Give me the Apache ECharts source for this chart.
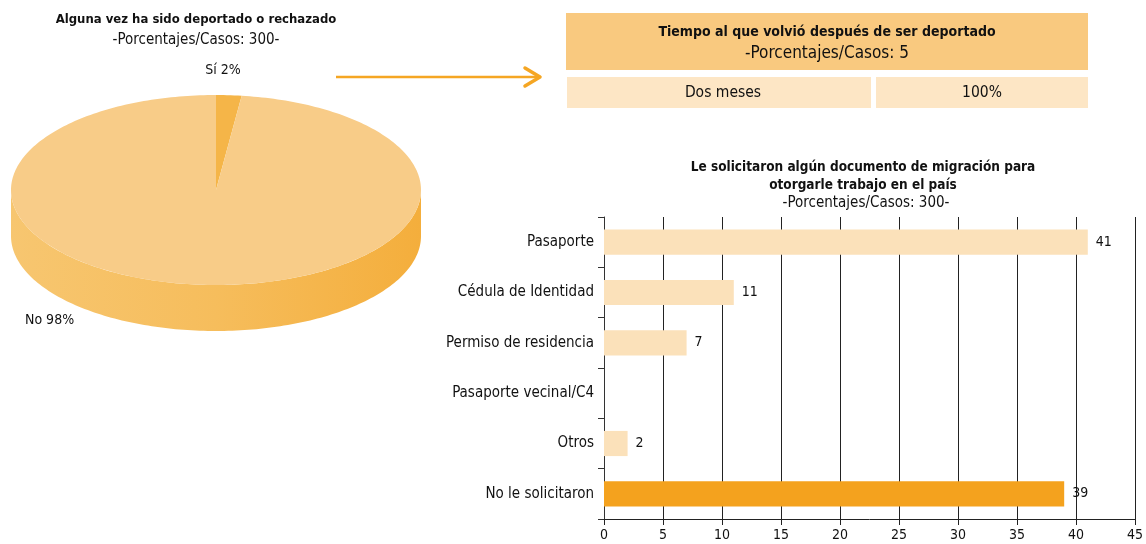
<!DOCTYPE html>
<html>
<head>
<meta charset="utf-8">
<script src="https://cdn.jsdelivr.net/npm/echarts@6/dist/echarts.min.js"></script>
<style>
  html, body { margin: 0; padding: 0; background: #fff; }
  #main { width: 1146px; height: 544px; }
</style>
</head>
<body>
<div id="main"></div>
<script>
// datos del gráfico de torta
const pieNames = ['Sí', 'No'];
const pieValues = [2, 98];

// tabla: tiempo al que volvió
const tableHeader = ['Tiempo al que volvió después de ser deportado', '-Porcentajes/Casos: 5'];
const tableCells = ['Dos meses', '100%'];

// barras: documento de migración
const barCategories = ['Pasaporte', 'Cédula de Identidad', 'Permiso de residencia', 'Pasaporte vecinal/C4', 'Otros', 'No le solicitaron'];
const barValues = [41, 11, 7, 0, 2, 39];
const xTicks = [0, 5, 10, 15, 20, 25, 30, 35, 40, 45];

const FONT = '"DejaVu Sans Condensed", "DejaVu Sans", sans-serif';
const pie = { cx: 216, cy: 190, rx: 205, ry: 95, depth: 46 }; // elipse del pastel 3D

const chart = echarts.init(document.getElementById('main'));

function renderPie (params, api) {
  const i = params.dataIndex;
  const total = pieValues.reduce((a, b) => a + b, 0);
  let start = 0;
  for (let k = 0; k < i; k++) start += pieValues[k];
  const a0 = start / total * Math.PI * 2;
  const a1 = (start + api.value(0)) / total * Math.PI * 2;
  const pt = (a, dy) => [pie.cx + pie.rx * Math.sin(a), pie.cy - pie.ry * Math.cos(a) + dy];
  const arc = (from, to, dy) => {
    const pts = [];
    const n = Math.max(2, Math.ceil((to - from) / 0.02));
    for (let s = 0; s <= n; s++) pts.push(pt(from + (to - from) * s / n, dy));
    return pts;
  };
  const children = [];
  // cara lateral visible (mitad delantera)
  const s0 = Math.max(a0, Math.PI / 2);
  const s1 = Math.min(a1, Math.PI * 1.5);
  if (s1 > s0) {
    const side = arc(s0, s1, 0).concat(arc(s0, s1, pie.depth).reverse());
    children.push({
      type: 'polygon',
      z2: 1,
      shape: { points: side },
      style: {
        fill: new echarts.graphic.LinearGradient(0, 0, 1, 0, [
          { offset: 0, color: '#F7C670' },
          { offset: 0.5, color: '#F6BD5C' },
          { offset: 1, color: '#F4AE3C' }
        ])
      }
    })
  }
  const top = [[pie.cx, pie.cy]].concat(arc(a0, a1, 0));
  children.push({
    type: 'polygon',
    z2: 2,
    shape: { points: top },
    style: { fill: i === 0 ? '#F5B548' : '#F8CC88' }
  })
  return { type: 'group', children: children }
}

const textEl = (x, y, text, font, align) => ({
  type: 'text',
  x: x,
  y: y,
  z: 10,
  style: { text: text, font: font, fill: '#111', align: align || 'center', verticalAlign: 'middle' }
});

const option = {
  animation: false,
  grid: { left: 604, right: 11, top: 217, bottom: 25 },
  xAxis: {
    type: 'value',
    min: xTicks[0],
    max: xTicks[xTicks.length - 1],
    interval: xTicks[1] - xTicks[0],
    axisLine: { show: true, lineStyle: { color: '#222' } },
    axisTick: { show: true, length: 6, lineStyle: { color: '#222' } },
    axisLabel: { color: '#111', fontSize: 14, fontFamily: FONT, margin: 9 },
    splitLine: { show: true, lineStyle: { color: '#222', width: 1 } }
  },
  yAxis: {
    type: 'category',
    inverse: true,
    data: barCategories,
    axisLine: { show: true, lineStyle: { color: '#333' } },
    axisTick: { show: true, length: 6, lineStyle: { color: '#333' } },
    axisLabel: { color: '#111', fontSize: 15, fontFamily: FONT, margin: 10 }
  },
  series: [
    {
      type: 'bar',
      barWidth: '50%',
      data: barValues.map((v, i) => ({
        value: v,
        itemStyle: { color: i === barValues.length - 1 ? '#F4A21E' : '#FBE1BA' },
        label: { show: v > 0 }
      })),
      label: {
        position: 'right',
        distance: 8,
        color: '#111',
        fontSize: 14,
        fontFamily: FONT
      }
    },
    {
      type: 'custom',
      coordinateSystem: 'none',
      renderItem: renderPie,
      data: pieValues.map(v => [v])
    }
  ],
  graphic: [
    // títulos
    textEl(196, 20, 'Alguna vez ha sido deportado o rechazado', 'bold 13px ' + FONT),
    textEl(196, 40, '-Porcentajes/Casos: 300-', '15px ' + FONT),
    textEl(223, 70, pieNames[0] + ' ' + pieValues[0] + '%', '14px ' + FONT),
    textEl(25, 320, pieNames[1] + ' ' + pieValues[1] + '%', '14px ' + FONT, 'left'),
    textEl(863, 167, 'Le solicitaron algún documento de migración para', 'bold 13.5px ' + FONT),
    textEl(863, 185, 'otorgarle trabajo en el país', 'bold 13.5px ' + FONT),
    textEl(866, 203, '-Porcentajes/Casos: 300-', '15px ' + FONT),
    // flecha
    {
      type: 'polyline',
      shape: { points: [[336, 77], [540, 77]] },
      style: { stroke: '#F5A623', lineWidth: 2.5, fill: null }
    },
    {
      type: 'polyline',
      shape: { points: [[525, 68], [540, 77], [525, 86]] },
      style: { stroke: '#F5A623', lineWidth: 3.5, fill: null, lineCap: 'round', lineJoin: 'round' }
    },
    // tabla
    { type: 'rect', shape: { x: 566, y: 13, width: 522, height: 57 }, style: { fill: '#F9C97F' } },
    { type: 'rect', shape: { x: 567, y: 77, width: 304, height: 31 }, style: { fill: '#FDE6C5' } },
    { type: 'rect', shape: { x: 876, y: 77, width: 212, height: 31 }, style: { fill: '#FDE6C5' } },
    textEl(827, 32, tableHeader[0], 'bold 14px ' + FONT),
    textEl(827, 54, tableHeader[1], '17px ' + FONT),
    textEl(723, 93, tableCells[0], '15.5px ' + FONT),
    textEl(982, 93, tableCells[1], '15.5px ' + FONT)
  ]
};

chart.setOption(option);
</script>
</body>
</html>
